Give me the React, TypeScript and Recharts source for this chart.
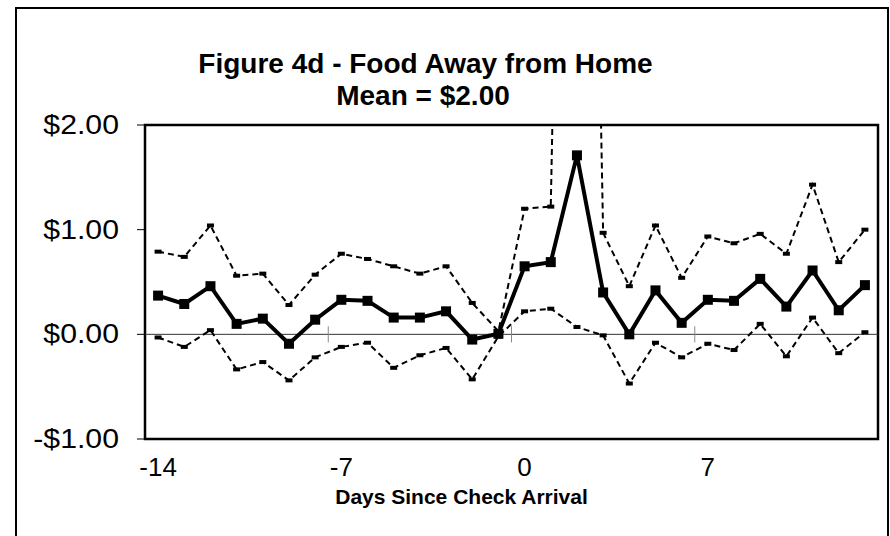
import React from "react";
import {
  LineChart,
  Line,
  XAxis,
  YAxis,
  ReferenceLine,
  ReferenceArea,
} from "recharts";

const FONT = '"Liberation Sans", Arial, sans-serif';

// days relative to check arrival
const days = [
  -14, -13, -12, -11, -10, -9, -8, -7, -6, -5, -4, -3, -2, -1,
  0, 1, 2, 3, 4, 5, 6, 7, 8, 9, 10, 11, 12, 13,
];

// point estimate (solid line with squares)
const estimate = [
  0.37, 0.29, 0.46, 0.1, 0.15, -0.09, 0.14, 0.33, 0.32, 0.16, 0.16, 0.22, -0.05, 0.005,
  0.65, 0.69, 1.71, 0.4, 0.0, 0.42, 0.11, 0.33, 0.32, 0.53, 0.265, 0.61, 0.23, 0.47,
];

// upper band (dashed) - day 2 runs off the top of the chart
const upper = [
  0.79, 0.74, 1.04, 0.56, 0.58, 0.28, 0.57, 0.77, 0.72, 0.65, 0.58, 0.65, 0.3, 0.03,
  1.2, 1.22, 14, 0.97, 0.46, 1.04, 0.54, 0.935, 0.87, 0.96, 0.77, 1.43, 0.69, 1.0,
];

// lower band (dashed)
const lower = [
  -0.03, -0.12, 0.04, -0.335, -0.265, -0.44, -0.22, -0.12, -0.08, -0.32, -0.2, -0.13, -0.43, -0.02,
  0.22, 0.245, 0.07, -0.01, -0.47, -0.08, -0.22, -0.09, -0.15, 0.1, -0.21, 0.16, -0.18, 0.02,
];

const xTicks = [-14, -7, 0, 7];
const yTicks = [-1, 0, 1, 2];
// category boundaries where the axis tick marks sit on the zero line
const tickBounds = [-7.5, -0.5, 6.5];
const TICK_HALF = 0.077;

const data = days.map((d, i) => ({
  day: d,
  estimate: estimate[i],
  upper: upper[i],
  lower: lower[i],
}));

const money = (v: number) => (v < 0 ? `-$${Math.abs(v).toFixed(2)}` : `$${v.toFixed(2)}`);

const YTick = (props: any) => {
  const { x, y, payload } = props;
  return (
    <g transform={`translate(${x},${y + 9})`}>
      <text
        x={0}
        y={0}
        transform="scale(1.12,1)"
        textAnchor="end"
        fontSize={27}
        fontFamily={FONT}
        fill="#000"
      >
        {money(payload.value)}
      </text>
    </g>
  );
};

const XTick = (props: any) => {
  const { x, y, payload } = props;
  return (
    <text x={x} y={y + 37} textAnchor="middle" fontSize={26} fontFamily={FONT} fill="#000">
      {payload.value}
    </text>
  );
};

const SquareDot = (props: any) => {
  const { cx, cy, index } = props;
  if (cx == null || cy == null) return <g key={`sq-${index}`} />;
  return <rect key={`sq-${index}`} x={cx - 5} y={cy - 5} width={10} height={10} fill="#000" />;
};

const DashDot = (props: any) => {
  const { cx, cy, index, dataKey } = props;
  if (cx == null || cy == null) return <g key={`d-${dataKey}-${index}`} />;
  return <rect key={`d-${dataKey}-${index}`} x={cx - 3.5} y={cy - 2} width={7} height={4} fill="#000" />;
};

export default function App() {
  return (
    <div
      style={{
        position: "absolute",
        left: 0,
        top: 0,
        width: 890,
        height: 536,
        overflow: "hidden",
        background: "#fff",
      }}
    >
      <div
        style={{
          position: "absolute",
          left: 15,
          top: 7,
          width: 874,
          height: 560,
          border: "2px solid #000",
          boxSizing: "border-box",
        }}
      />
      <div style={{ position: "absolute", left: 0, top: 0 }}>
        <LineChart
          width={890}
          height={536}
          data={data}
          margin={{ top: 125, right: 12, bottom: 37, left: 0 }}
        >
          <XAxis
            dataKey="day"
            type="number"
            domain={[-14.5, 13.5]}
            ticks={xTicks}
            axisLine={false}
            tickLine={false}
            tickSize={0}
            tickMargin={0}
            height={60}
            tick={<XTick />}
          />
          <YAxis
            type="number"
            domain={[-1, 2]}
            ticks={yTicks}
            allowDataOverflow
            axisLine={false}
            tickLine={{ stroke: "#000", strokeWidth: 1 }}
            tickSize={8}
            tickMargin={18}
            width={145}
            tick={<YTick />}
          />
          <ReferenceLine y={0} stroke="#333" strokeWidth={1} />
          {tickBounds.map((b) => (
            <ReferenceLine
              key={b}
              segment={[
                { x: b, y: -TICK_HALF },
                { x: b, y: TICK_HALF },
              ]}
              stroke="#888"
              strokeWidth={1}
            />
          ))}
          <Line
            dataKey="upper"
            stroke="#000"
            strokeWidth={2}
            strokeDasharray="6 4"
            dot={<DashDot />}
            isAnimationActive={false}
          />
          <Line
            dataKey="lower"
            stroke="#000"
            strokeWidth={2}
            strokeDasharray="6 4"
            dot={<DashDot />}
            isAnimationActive={false}
          />
          <Line
            dataKey="estimate"
            stroke="#000"
            strokeWidth={4}
            dot={<SquareDot />}
            isAnimationActive={false}
          />
          <ReferenceArea
            x1={-14.5}
            x2={13.5}
            y1={-1}
            y2={2}
            fill="none"
            stroke="#000"
            strokeWidth={2.5}
            ifOverflow="visible"
          />
        </LineChart>
      </div>
      <svg
        width={890}
        height={536}
        style={{ position: "absolute", left: 0, top: 0, pointerEvents: "none" }}
      >
        <text x={425.5} y={73} textAnchor="middle" fontSize={28} fontWeight="bold" fontFamily={FONT}>
          Figure 4d - Food Away from Home
        </text>
        <text x={423} y={105} textAnchor="middle" fontSize={28} fontWeight="bold" fontFamily={FONT}>
          Mean = $2.00
        </text>
        <text x={461.5} y={504} textAnchor="middle" fontSize={21} fontWeight="bold" fontFamily={FONT}>
          Days Since Check Arrival
        </text>
      </svg>
    </div>
  );
}
